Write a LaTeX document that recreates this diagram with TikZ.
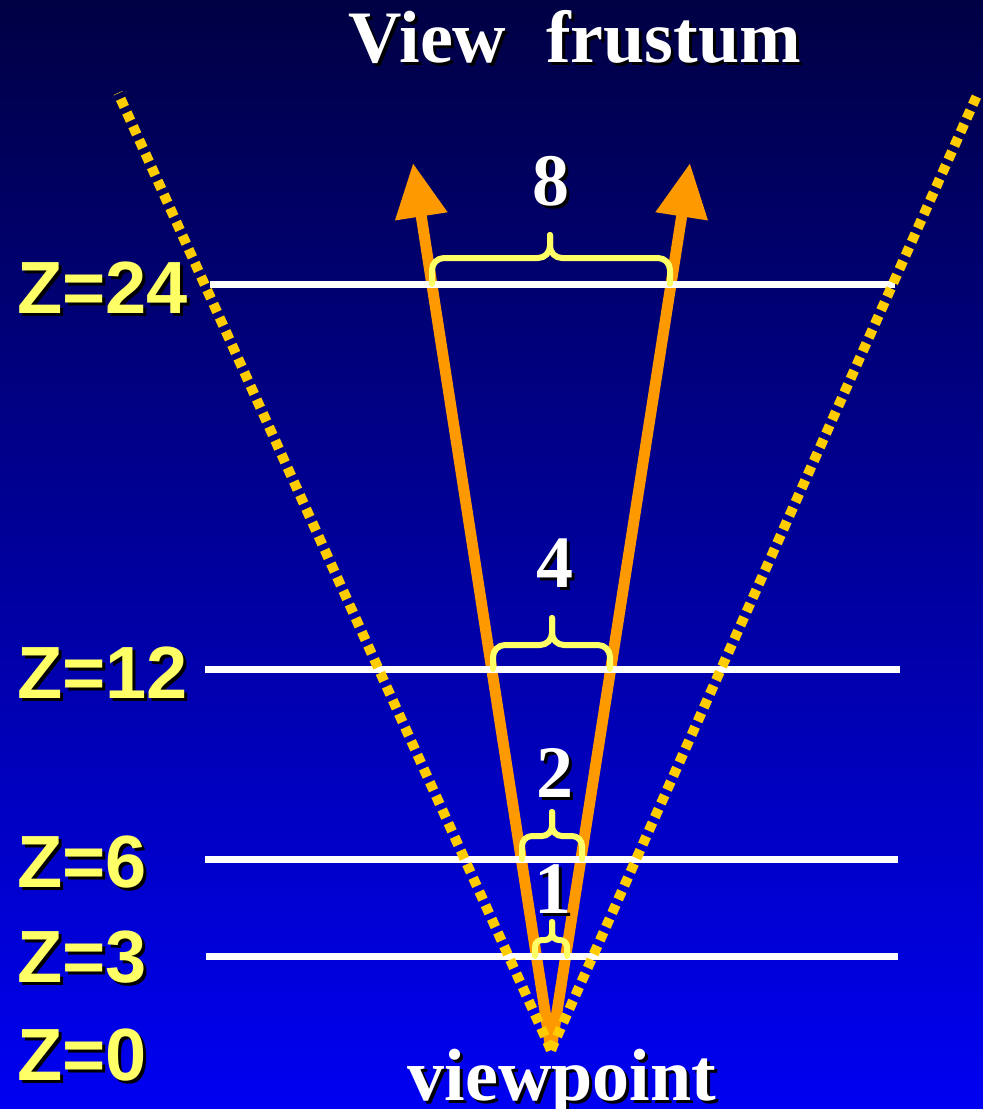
\documentclass[tikz,border=0pt]{standalone}
\usepackage{fontspec}
\setmainfont{Liberation Serif}
\newfontfamily\zfont{Liberation Sans}
\usetikzlibrary{arrows.meta}
\definecolor{skytop}{RGB}{0,0,68}
\definecolor{skybot}{RGB}{0,0,242}
\definecolor{rayorange}{RGB}{255,153,0}
\definecolor{edgegold}{RGB}{255,204,0}
\definecolor{bracey}{RGB}{255,255,102}

\begin{document}
\begin{tikzpicture}[
	x=0.5pt, y=-0.5pt,
	depth/.style={ white, line width=3.5pt },
	ray/.style={ rayorange, line width=5.5pt, -{Triangle[length=27pt,width=25pt]} },
	edge/.style={ edgegold, line width=5pt, dash pattern=on 4.5pt off 3pt },
	curly/.style={ bracey, line width=3pt, line cap=round },
	zlab/.style={ anchor=base west, inner sep=0pt, text=bracey, font=\zfont\bfseries\fontsize{37}{40}\selectfont },
	zlabs/.style={ zlab, text=black },
	num/.style={ anchor=base, inner sep=0pt, text=white, font=\bfseries\fontsize{37}{40}\selectfont },
	nums/.style={ num, text=black }
]

% frame and sky
\useasboundingbox (0,0) rectangle (983,1109);
\shade[top color=skytop, bottom color=skybot] (0,0) rectangle (983,1109);

% viewpoint and far ends
\coordinate (vp) at (551,1050);
\coordinate (el) at (118,93);
\coordinate (er) at (978,93);
\coordinate (al) at (413,163);
\coordinate (ar) at (690,163);

% rays
\draw[ray] (vp) -- (al);
\draw[ray] (vp) -- (ar);

% depth planes
\coordinate (p24l) at (210,284); \coordinate (p24r) at (895,284);
\coordinate (p12l) at (205,669); \coordinate (p12r) at (900,669);
\coordinate (p6l) at (205,859);  \coordinate (p6r) at (898,859);
\coordinate (p3l) at (206,956);  \coordinate (p3r) at (898,956);
\draw[depth] (p24l) -- (p24r);
\draw[depth] (p12l) -- (p12r);
\draw[depth] (p6l) -- (p6r);
\draw[depth] (p3l) -- (p3r);

% frustum edges
\draw[edge] (vp) -- (el);
\draw[edge] (vp) -- (er);

% braces
\draw[curly, rounded corners=6pt] (432,284) |- (550,258) -- (550,235);
\draw[curly, rounded corners=6pt] (670,284) |- (550,258) -- (550,235);
\draw[curly, rounded corners=6pt] (493,669) |- (552,645) -- (552,618);
\draw[curly, rounded corners=6pt] (610,669) |- (552,645) -- (552,618);
\draw[curly, rounded corners=5pt] (522,859) |- (552,836) -- (552,812);
\draw[curly, rounded corners=5pt] (582,859) |- (552,836) -- (552,812);
\draw[curly, rounded corners=3.5pt] (535,956) |- (552,940) -- (552,922);
\draw[curly, rounded corners=3.5pt] (567,956) |- (552,940) -- (552,922);

% title and widths
\node at (578,65) (titles) [nums] {View\hspace{0.54em}frustum};
\node at (575,62) (title) [num] {View\hspace{0.54em}frustum};
\node at (554,208) (w8s) [nums] {8};
\node at (551,205) (w8) [num] {8};
\node at (558,590) (w4s) [nums] {4};
\node at (555,587) (w4) [num] {4};
\node at (558,800) (w2s) [nums] {2};
\node at (555,797) (w2) [num] {2};
\node at (556,916) (w1s) [nums] {1};
\node at (553,913) (w1) [num] {1};
\node at (565,1103) (views) [nums] {viewpoint};
\node at (562,1100) (view) [num] {viewpoint};

% depth labels
\node at (20,316) (z24s) [zlabs] {Z=24};
\node at (17,313) (z24) [zlab] {Z=24};
\node at (20,701) (z12s) [zlabs] {Z=12};
\node at (17,698) (z12) [zlab] {Z=12};
\node at (20,890) (z6s) [zlabs] {Z=6};
\node at (17,887) (z6) [zlab] {Z=6};
\node at (20,985) (z3s) [zlabs] {Z=3};
\node at (17,982) (z3) [zlab] {Z=3};
\node at (20,1083) (z0s) [zlabs] {Z=0};
\node at (17,1080) (z0) [zlab] {Z=0};

\end{tikzpicture}
\end{document}
